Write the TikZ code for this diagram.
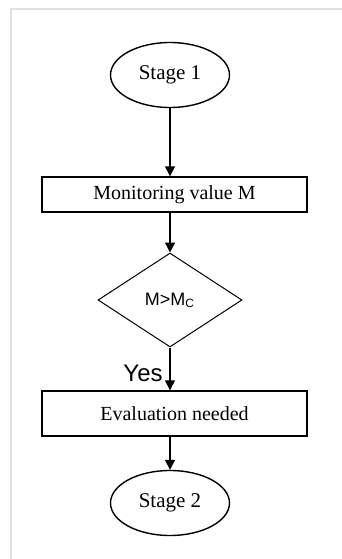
\documentclass[tikz,border=0pt]{standalone}
\usepackage{fontspec}
\setmainfont{Liberation Serif}
\newfontfamily\arialfont{Liberation Sans}
\usetikzlibrary{shapes.geometric, arrows.meta}
\definecolor{framegray}{RGB}{225, 225, 225}

\tikzset{
    stage/.style={draw, ellipse, line width=0.7pt, minimum width=59.5pt, minimum height=32.5pt, font=\fontsize{10.5}{12}\selectfont},
    actbox/.style={draw, rectangle, line width=0.7pt, minimum width=132.5pt, font=\fontsize{10}{12}\selectfont},
    decide/.style={draw, diamond, line width=0.5pt, inner sep=0pt, minimum width=72pt, minimum height=47pt, font=\arialfont\fontsize{9}{11}\selectfont},
    flow/.style={-{Triangle[width=5pt,length=5pt]}, line width=0.7pt}
}

\begin{document}
\begin{tikzpicture}[x=0.5pt, y=-0.5pt]
    \useasboundingbox (0,0) rectangle (342,559);
    % page frame
    \draw[framegray, line width=1.2pt] (11,559) -- (11,9) -- (342,9);

    \node[stage] (start) at (170,75) {Stage 1};
    \node[actbox, minimum height=17.5pt] (monitor) at (174.5,194.5) {Monitoring value M};
    \node[decide] (check) at (170,300) {M>M\textsubscript{C}};
    \node[actbox, minimum height=22.5pt] (eval) at (174.5,413.5) {Evaluation needed};
    \node[stage] (stop) at (170,503) {Stage 2};

    \draw[flow] (start) -- (start.south |- monitor.north);
    \draw[flow] (monitor.south -| check.north) -- (check);
    \draw[flow] (check) -- node[left, pos=0.6, font=\arialfont\fontsize{12}{14}\selectfont] {Yes} (check.south |- eval.north);
    \draw[flow] (eval.south -| stop.north) -- (stop);
\end{tikzpicture}
\end{document}
